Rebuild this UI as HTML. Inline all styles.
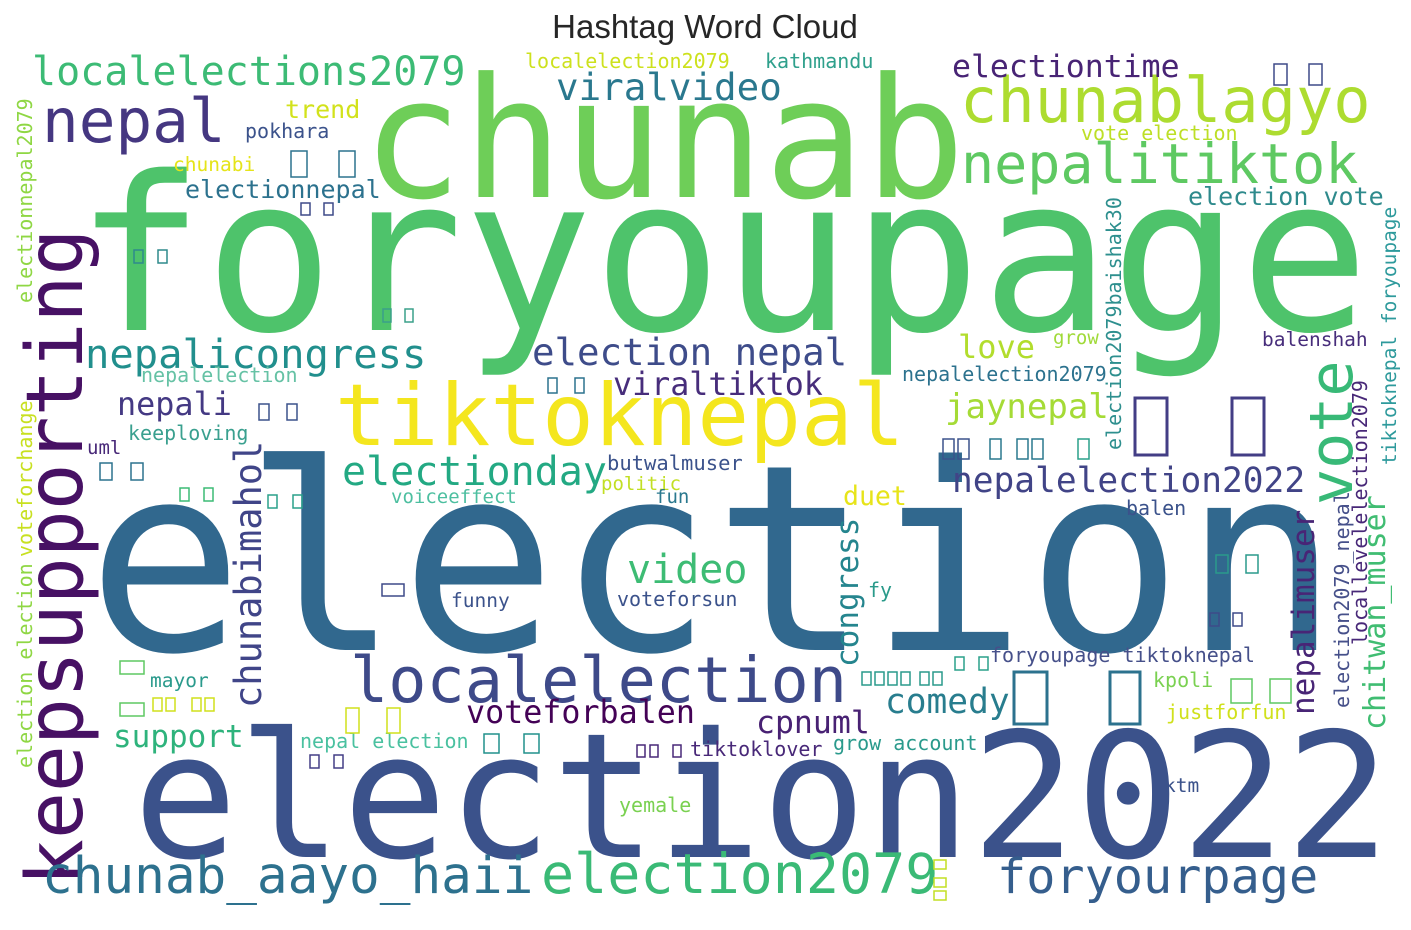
<!DOCTYPE html>
<html><head><meta charset="utf-8"><title>Hashtag Word Cloud</title>
<style>
html,body{margin:0;padding:0;background:#fff;}
svg{display:block;}
</style></head>
<body>
<svg id="cloud" width="1411" height="930" viewBox="0 0 1411 930" xmlns="http://www.w3.org/2000/svg">
<rect x="0" y="0" width="1411" height="930" fill="#ffffff"/>
<text x="705" y="38" text-anchor="middle" font-family="Liberation Sans, Arial, sans-serif" font-size="33" fill="#262626">Hashtag Word Cloud</text>
<g id="words"></g>
<g id="tofu"></g>
</svg>
<script>
// word cloud data: words, weights (font size), colours
const words = ["foryoupage","election","election2022","chunab","tiktoknepal","keepsupporting","nepal","localelections2079","chunablagyo","nepalitiktok","viralvideo","electiontime","nepalicongress","election nepal","viraltiktok","nepali","love","jaynepal","electionday","nepalelection2022","chunabimahol","localelection","congress","video","duet","nepalimuser","chitwan_muser","vote","comedy","cpnuml","voteforbalen","support","chunab_aayo_haii","election2079","foryourpage",
"localelection2079","kathmandu","trend","pokhara","vote election","chunabi","electionnepal","election vote","nepalelection","grow","balenshah","nepalelection2079","keeploving","uml","butwalmuser","politic","voiceeffect","fun","balen","funny","voteforsun","fy","mayor","foryoupage tiktoknepal","kpoli","justforfun","nepal election","grow account","tiktoklover","ktm","yemale",
"electionnepal2079","voteforchange","election election","election2079baishak30","tiktoknepal foryoupage","election2079_nepal","locallevelelection2079"];
const sizes = [215,260,174,167,86,78,61,40,62,55,37.5,31.5,40.5,37.4,31.7,31.8,32,34,40,34.5,37,63.5,31,40,26.5,31,30,60,34.5,31.5,31.7,31,51,55,48.5,
20,20,25,20,20,19.5,25,25,20,19,19.5,20,20,19,20.5,19,19,19,20,19.5,20,20,19.5,20,20,20,20,20,20,19.5,20,
20,20,20,20,19.5,20,20];
const colors = ["#4ec36b","#31688e","#3b528b","#6ece58","#f4e61e","#471164","#453781","#3cbb75","#addc30","#5ec962","#2a788e","#482475","#218f8d","#3e4c8a","#472d7b","#443983","#b2dd2d","#a5db36","#23a983","#414487","#404588","#3e4a89","#25858e","#3dbc74","#e7e419","#482576","#40bd72","#38b977","#287d8e","#482173","#440256","#2eb37c","#2d718e","#3aba76","#355e8d",
"#cde11d","#2fa08c","#d2e21b","#3b528b","#bddf26","#e5e419","#2c728e","#2e8a8c","#66c2a5","#a0da39","#472d7b","#2c728e","#3aa08f","#482878","#3b528b","#c2df23","#4dbfa0","#2a788e","#3b528b","#3b528b","#3b528b","#2a9a8a","#2a9a8c","#46508a","#7ad151","#d0e11c","#4ac1a0","#2a9a8c","#482878","#3b528b","#7ad151",
"#8fd744","#c8e020","#8fd744","#2d8f8e","#2e9a9c","#46508a","#482878"];
// layout (start x, baseline y, rotation) produced by the cloud placement
const layoutX = [75,87,133,362,335,82,42,32,960,961,556,952,85,532,613,117,958,945,342,952,261,350,858,627,843,1314,1385,1352,885,756,466,113,42,541,997,
525,765,285,245,1081,173,185,1188,141,1053,1262,902,128,87,607,601,391,655,1126,451,617,868,150,990,1153,1166,300,833,690,1164,619,
32,32,32,1121,1396,1349,1367];
const layoutY = [330,650,857,197,445,886,142,85,122,183,100,77,368,365,395,415,358,418,485,492,708,702,667,583,505,715,730,505,713,733,723,747,893,893,893,
68,68,118,138,140,171,198,205,382,344,346,381,440,454,470,490,503,503,515,607,606,597,687,662,687,719,748,750,756,792,812,
303,557,768,450,465,708,645];
const layoutRot = [0,0,0,0,0,-90,0,0,0,0,0,0,0,0,0,0,0,0,0,0,-90,0,-90,0,0,-90,-90,-90,0,0,0,0,0,0,0,
0,0,0,0,0,0,0,0,0,0,0,0,0,0,0,0,0,0,0,0,0,0,0,0,0,0,0,0,0,0,0,
-90,-90,-90,-90,-90,-90,-90];
// boxes where glyphs were missing (Devanagari tofu): x,y,w,h,colour
const tofuBoxes = [
[1274,64,13,21,"#3e4a89"],[1309,64,13,21,"#3e4a89"],
[291,151,16,26,"#2c728e"],[339,151,16,26,"#2c728e"],
[301,203,9,12,"#3e4a89"],[324,203,9,12,"#3e4a89"],
[134,250,9,13,"#2e8a8c"],[158,250,9,13,"#2e8a8c"],
[383,309,8,13,"#3aa08a"],[405,309,8,13,"#3aa08a"],
[259,404,10,16,"#3b528b"],[287,404,10,16,"#3b528b"],
[548,378,9,15,"#2c728e"],[575,378,9,15,"#2c728e"],
[943,439,11,20,"#3b528b"],[958,439,11,20,"#3b528b"],[990,439,11,20,"#2a788e"],[1017,439,11,20,"#2a788e"],[1032,439,11,20,"#2a788e"],[1078,439,11,20,"#2aa08a"],
[100,463,12,17,"#2c728e"],[131,463,12,17,"#2c728e"],
[180,488,9,13,"#3cbb75"],[204,488,9,13,"#3cbb75"],
[268,495,9,13,"#2aa08a"],[293,495,9,13,"#2aa08a"],
[1135,398,32,57,"#433e85"],[1232,398,32,57,"#433e85"],
[1216,555,12,18,"#2a9a8c"],[1246,555,12,18,"#2a9a8c"],
[1210,613,9,13,"#3e4a89"],[1233,613,9,13,"#3e4a89"],
[382,584,22,12,"#3e4a89"],
[120,661,24,13,"#5ec962"],[120,703,24,13,"#5ec962"],
[153,698,9,13,"#d0e11c"],[166,698,9,13,"#d0e11c"],[192,698,9,13,"#d0e11c"],[205,698,9,13,"#d0e11c"],
[346,708,13,25,"#d0e11c"],[387,708,13,25,"#d0e11c"],
[484,734,15,19,"#21918c"],[524,734,15,19,"#21918c"],
[310,755,9,13,"#433e85"],[334,755,9,13,"#433e85"],
[637,745,8,12,"#482878"],[650,745,8,12,"#482878"],[673,745,8,12,"#482878"],
[955,657,9,13,"#2aa08a"],[979,657,9,13,"#2aa08a"],
[862,672,9,13,"#2a9a8c"],[875,672,9,13,"#2a9a8c"],[888,672,9,13,"#2a9a8c"],[901,672,9,13,"#2a9a8c"],[920,672,9,13,"#2a9a8c"],[933,672,9,13,"#2a9a8c"],
[1014,672,33,52,"#2c728e"],[1110,672,30,52,"#2c728e"],
[1231,679,21,24,"#5ec962"],[1270,679,21,24,"#5ec962"],
[934,860,12,9,"#c2df23"],[934,878,12,9,"#c2df23"],[934,891,12,9,"#c2df23"]
];

const NS = "http://www.w3.org/2000/svg";
const wg = document.getElementById("words");
for (let i = 0; i < words.length; i++) {
  const t = document.createElementNS(NS, "text");
  t.setAttribute("x", layoutX[i]);
  t.setAttribute("y", layoutY[i]);
  t.setAttribute("font-family", "DejaVu Sans Mono, Liberation Mono, monospace");
  t.setAttribute("font-size", sizes[i]);
  t.setAttribute("fill", colors[i]);
  if (layoutRot[i] !== 0) t.setAttribute("transform", "rotate(" + layoutRot[i] + " " + layoutX[i] + " " + layoutY[i] + ")");
  t.textContent = words[i];
  
  
  wg.appendChild(t);
}
const tg = document.getElementById("tofu");
for (let i = 0; i < tofuBoxes.length; i++) {
  const b = tofuBoxes[i];
  const r = document.createElementNS(NS, "rect");
  r.setAttribute("x", b[0]);
  r.setAttribute("y", b[1]);
  r.setAttribute("width", b[2]);
  r.setAttribute("height", b[3]);
  r.setAttribute("fill", "none");
  r.setAttribute("stroke", b[4]);
  r.setAttribute("stroke-width", b[3] > 40 ? 3 : 1.5);
  
  
  tg.appendChild(r);
}
</script>
</body></html>
